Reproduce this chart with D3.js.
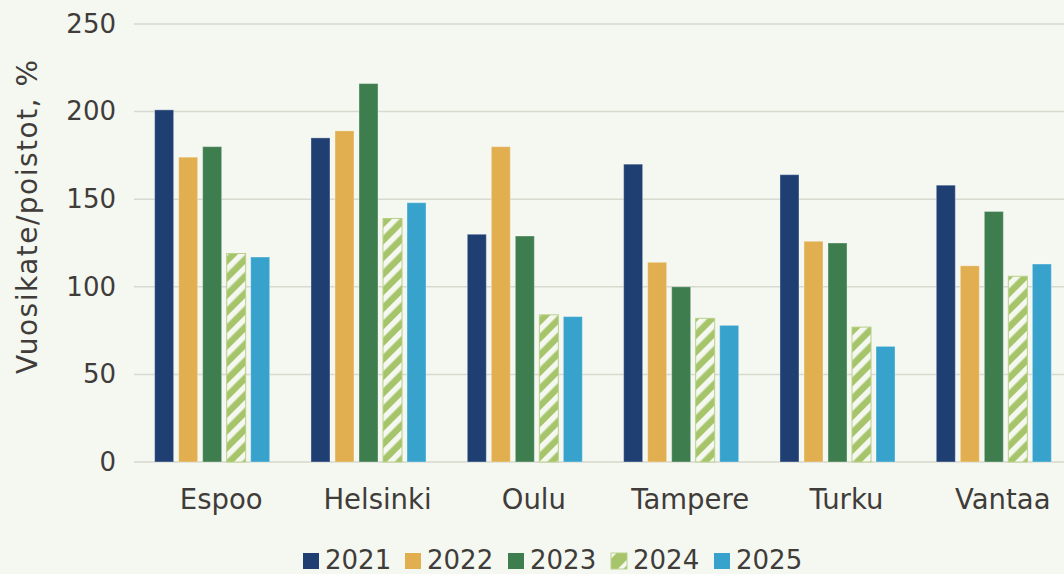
<!DOCTYPE html>
<html><head><meta charset="utf-8">
<script src="https://cdn.jsdelivr.net/npm/d3@7"></script>
<style>
html,body{margin:0;padding:0;background:#F5F8F1;}
svg{display:block;}
text{font-family:"DejaVu Sans",sans-serif;fill:#403C3A;}
</style></head>
<body><svg id="c" width="1064" height="574"></svg>
<script>
const cities = ["Espoo","Helsinki","Oulu","Tampere","Turku","Vantaa"];
const years = ["2021","2022","2023","2024","2025"];
const v2021 = [201,185,130,170,164,158];
const v2022 = [174,189,180,114,126,112];
const v2023 = [180,216,129,100,125,143];
const v2024 = [119,139,84,82,77,106];
const v2025 = [117,148,83,78,66,113];
const yTicks = [0,50,100,150,200,250];
const yTitle = "Vuosikate/poistot, %";

const series = [v2021,v2022,v2023,v2024,v2025];
const colors = ["#1F3F73","#E1AF50","#3E7D4E","#A6C46A","#37A3CC"];

const svg = d3.select("#c");
svg.append("rect").attr("width",1064).attr("height",574).attr("fill","#F5F8F1");

const defs = svg.append("defs");
const pat = defs.append("pattern").attr("id","hatch").attr("patternUnits","userSpaceOnUse")
  .attr("width",12).attr("height",12).attr("patternTransform","rotate(45)");
pat.append("rect").attr("width",12).attr("height",12).attr("fill","#A6C46A");
pat.append("rect").attr("x",0).attr("width",5.5).attr("height",12).attr("fill","#F5F8F1");
const patL = defs.append("pattern").attr("id","hatchL").attr("patternUnits","userSpaceOnUse")
  .attr("width",16).attr("height",16).attr("patternTransform","rotate(45)");
patL.append("rect").attr("width",16).attr("height",16).attr("fill","#A6C46A");
patL.append("rect").attr("x",0).attr("width",4).attr("height",16).attr("fill","#F5F8F1");

const y = d3.scaleLinear().domain([0,250]).range([462,24]);
const x0 = d3.scaleBand().domain(cities).range([134,1072]).paddingInner(0.264).paddingOuter(0.132);
const x1 = d3.scaleBand().domain(years).range([0,x0.bandwidth()]).paddingInner(0.208).paddingOuter(0);

// gridlines
svg.append("g").selectAll("line").data(yTicks).join("line")
  .attr("x1",134).attr("x2",1064).attr("y1",d=>y(d)).attr("y2",d=>y(d))
  .attr("stroke","#D6D9CD").attr("stroke-width",1.5);

// y axis labels
const yAxis = d3.axisLeft(y).tickValues(yTicks).tickSize(0).tickPadding(0);
const gy = svg.append("g").attr("transform","translate(116,0)").call(yAxis);
gy.select(".domain").remove();
gy.selectAll("text").attr("font-size",26).attr("font-family","DejaVu Sans").attr("fill","#403C3A").attr("dy","0.32em");

// bars
const rows = [];
cities.forEach((c,i)=>years.forEach((yr,j)=>rows.push({c,yr,j,v:series[j][i]})));
svg.append("g").selectAll("rect").data(rows).join("rect")
  .attr("x",d=>x0(d.c)+x1(d.yr)).attr("width",x1.bandwidth())
  .attr("y",d=>y(d.v)).attr("height",d=>y(0)-y(d.v))
  .attr("fill",d=>d.j===3?"url(#hatch)":colors[d.j])
  .attr("stroke",d=>d.j===3?"#B9D08A":"rgba(255,255,255,0.35)")
  .attr("stroke-width",1);

// category labels
svg.append("g").selectAll("text").data(cities).join("text")
  .attr("x",d=>x0(d)+x0.bandwidth()/2+9).attr("y",509)
  .attr("text-anchor","middle").attr("font-size",27.5).text(d=>d);

// y title
svg.append("text").attr("transform","translate(37,217) rotate(-90)")
  .attr("text-anchor","middle").attr("font-size",28)
  .attr("textLength",314).attr("lengthAdjust","spacing").text(yTitle);

// legend
const lx = [303,405,508,611,714];
const lg = svg.append("g").selectAll("g").data(years).join("g")
  .attr("transform",(d,i)=>`translate(${lx[i]},553)`);
lg.append("rect").attr("width",16).attr("height",16)
  .attr("fill",(d,i)=>i===3?"url(#hatchL)":colors[i])
  .attr("stroke",(d,i)=>i===3?"#B9D08A":"none").attr("stroke-width",1);
lg.append("text").attr("x",22).attr("y",16).attr("font-size",26).text(d=>d);
</script></body></html>
